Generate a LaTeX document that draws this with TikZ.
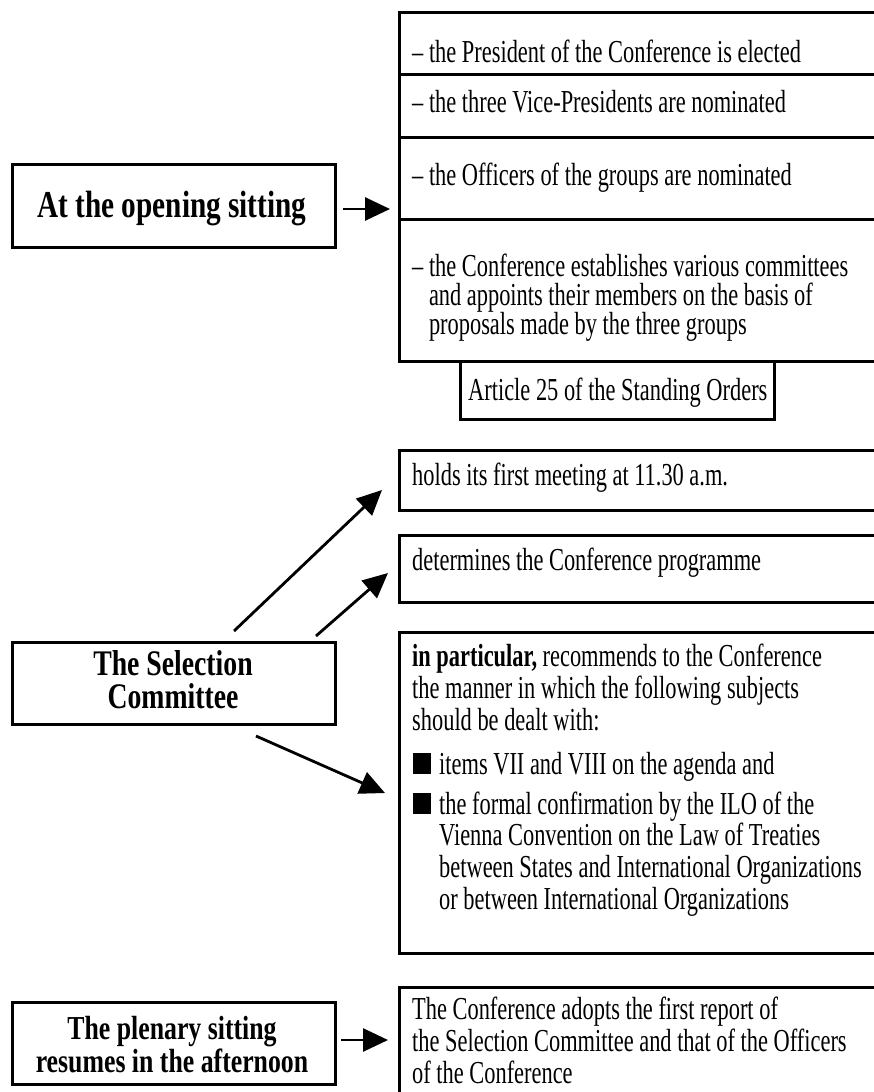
\documentclass[tikz,border=0pt]{standalone}
\usepackage{fontspec}
\setmainfont{Liberation Serif}[FakeStretch=0.70]
\newfontfamily\ttlfont{Liberation Serif}[FakeStretch=0.77]
\usetikzlibrary{arrows.meta}
\lineskiplimit=-40pt
\begin{document}
\lineskiplimit=-40pt
\begin{tikzpicture}[x=1bp,y=-1bp,
  box/.style={draw, line width=2.8bp, rectangle, inner sep=0pt, anchor=north west, minimum width=520bp},
  lbox/.style={box, minimum width=323bp, minimum height=82bp},
  txt/.style={anchor=base west, inner sep=0pt, align=left,
    font=\fontsize{32bp}{29bp}\selectfont},
  txtb/.style={txt, font=\fontsize{32bp}{31.6bp}\selectfont},
  ttl/.style={anchor=base, inner sep=0pt, align=center,
    font=\ttlfont\bfseries\fontsize{36bp}{32.5bp}\selectfont},
  arr/.style={line width=2.8bp, -{Triangle[length=25bp,width=23bp]}},
  sq/.style={fill=black, inner sep=0pt, minimum width=18bp, minimum height=21bp, anchor=south west},
]
\useasboundingbox[fill=white] (0,0) rectangle (874,1092);

% ---------- opening sitting ----------
\node[box, minimum height=62bp] (p1) at (398,11) {};
\node[box, minimum height=63bp] (p2) at (398,73) {};
\node[box, minimum height=82bp] (p3) at (398,136) {};
\node[box, minimum height=142bp] (p4) at (398,218) {};
\node[box, minimum width=314bp, minimum height=58bp] (art) at (459,360) {};
\node[lbox, minimum height=83bp] (open) at (11,163) {};

% multi-line nodes: 'base' is the baseline of the last line
\node[txt] (t1) at (412,62) {– the President of the Conference is elected};
\node[txt] (t2) at (412,112) {– the three Vice-Presidents are nominated};
\node[txt] (t3) at (412,185) {– the Officers of the groups are nominated};
\node[txt] (t4) at (412,334) {– the Conference establishes various committees\\
  \hphantom{– }and appoints their members on the basis of\\
  \hphantom{– }proposals made by the three groups};
\node[txt] (tart) at (468,400) {Article 25 of the Standing Orders};
\node[ttl, font=\ttlfont\bfseries\fontsize{38bp}{38bp}\selectfont] (topen) at (172,217) {At the opening sitting};

\coordinate (a1s) at (343,209);
\coordinate (a1e) at (390,209);
\draw[arr] (a1s) -- (a1e);

% ---------- selection committee ----------
\node[box, minimum height=60bp] (h1) at (398,449) {};
\node[box, minimum height=67bp] (h2) at (398,534) {};
\node[box, minimum height=321bp] (h3) at (398,631) {};
\node[lbox] (sel) at (11,641) {};

\node[txt] (s1) at (412,485) {holds its first meeting at 11.30 a.m.};
\node[txt] (s2) at (412,570) {determines the Conference programme};
\node[txtb] (s3) at (412,730) {\textbf{in particular,} recommends to the Conference\\
  the manner in which the following subjects\\
  should be dealt with:};
\node[sq] (sq1) at (413,774) {};
\node[txt] (s4) at (439,774) {items VII and VIII on the agenda and};
\node[sq] (sq2) at (413,814) {};
\node[txtb] (s5) at (439,909) {the formal confirmation by the ILO of the\\
  Vienna Convention on the Law of Treaties\\
  between States and International Organizations\\
  or between International Organizations};

\node[ttl] (tsel) at (173,708) {The Selection\\Committee};

\coordinate (a2s) at (234,631);
\coordinate (a2e) at (382,490);
\coordinate (a3s) at (316,636);
\coordinate (a3e) at (388,573);
\coordinate (a4s) at (256,736);
\coordinate (a4e) at (385,793);
\draw[arr] (a2s) -- (a2e);
\draw[arr] (a3s) -- (a3e);
\draw[arr] (a4s) -- (a4e);

% ---------- plenary ----------
\node[box, minimum height=200bp] (res) at (398,986) {};
\node[lbox] (plen) at (11,1001) {};
\node[ttl, font=\ttlfont\bfseries\fontsize{33.5bp}{33bp}\selectfont] (tpl) at (172,1072) {The plenary sitting\\resumes in the afternoon};
\node[txtb] (r) at (412,1083) {The Conference adopts the first report of\\
  the Selection Committee and that of the Officers\\
  of the Conference};

\coordinate (a5s) at (341,1040);
\coordinate (a5e) at (388,1040);
\draw[arr] (a5s) -- (a5e);
\end{tikzpicture}
\end{document}
